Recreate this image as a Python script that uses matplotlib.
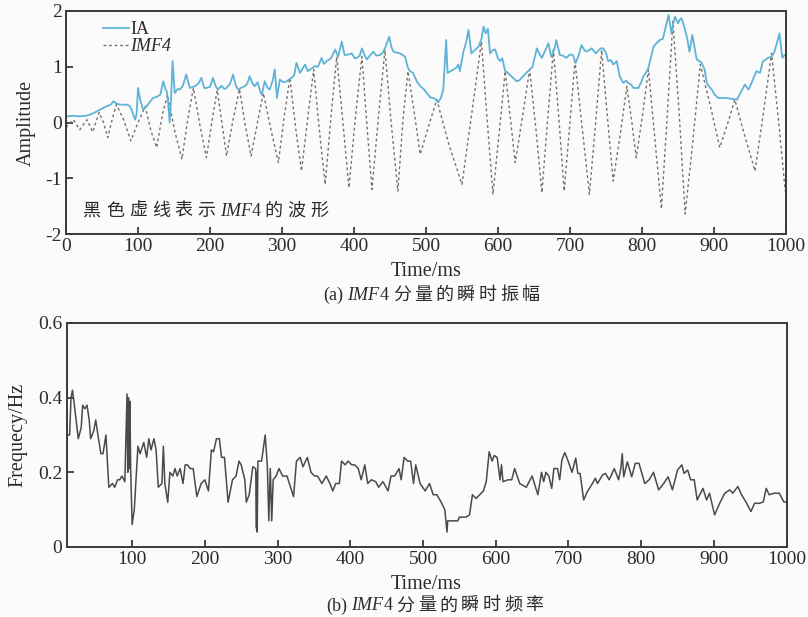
import matplotlib
matplotlib.use("Agg")
import matplotlib.pyplot as plt
from matplotlib.offsetbox import TextArea, HPacker, AnchoredOffsetbox

# --- instantaneous amplitude (IA) of IMF4 ---
ia_t = [0, 10, 19, 27, 33, 40, 47, 56, 62, 66, 70, 75, 84, 88, 91, 96, 98, 100, 103, 107,
        112, 117, 121, 126, 131, 135, 138, 140, 142, 144, 146, 148, 151, 155, 158, 162, 167, 172, 179, 184,
        188, 192, 195, 200, 204, 208, 211, 216, 220, 223, 228, 232, 236, 239, 243, 248, 252, 255, 259, 262,
        266, 270, 272, 276, 280, 283, 287, 290, 293, 297, 302, 307, 313, 317, 320, 325, 332, 336, 339, 346,
        350, 355, 358, 362, 368, 374, 378, 383, 387, 392, 397, 401, 404, 408, 411, 415, 418, 422, 427, 431,
        436, 440, 443, 449, 452, 455, 460, 464, 471, 475, 478, 482, 485, 488, 492, 497, 501, 506, 510, 513,
        517, 521, 524, 528, 530, 534, 538, 542, 545, 547, 552, 556, 559, 563, 568, 573, 577, 580, 583, 586,
        589, 593, 596, 600, 603, 606, 610, 613, 616, 621, 626, 630, 635, 640, 644, 648, 654, 658, 661, 666,
        670, 674, 678, 681, 686, 690, 695, 700, 704, 708, 712, 716, 720, 723, 727, 730, 736, 740, 743, 746,
        750, 753, 757, 760, 765, 769, 774, 778, 781, 785, 788, 792, 795, 799, 802, 806, 809, 813, 816, 820,
        825, 829, 832, 837, 841, 843, 846, 850, 853, 855, 860, 863, 866, 870, 873, 876, 880, 883, 887, 890,
        893, 897, 901, 906, 912, 918, 922, 927, 932, 938, 943, 948, 952, 955, 959, 964, 968, 971, 975, 980,
        984, 988, 991, 995, 998, 1000]
ia_v = [0.11, 0.12, 0.11, 0.12, 0.14, 0.18, 0.23, 0.29, 0.32, 0.38, 0.34, 0.32, 0.32, 0.30, 0.23, 0.05, 0.15, 0.62, 0.41, 0.23,
        0.29, 0.38, 0.44, 0.46, 0.50, 0.74, 0.60, 0.56, 0.35, 0.00, 0.45, 1.10, 0.53, 0.60, 0.59, 0.65, 0.86, 0.62, 0.65, 0.70,
        0.80, 0.62, 0.62, 0.64, 0.80, 0.65, 0.59, 0.66, 0.60, 0.62, 0.70, 0.86, 0.66, 0.59, 0.62, 0.65, 0.70, 0.83, 0.70, 0.65,
        0.72, 0.55, 0.50, 0.74, 0.62, 0.59, 0.75, 0.95, 0.44, 0.77, 0.72, 0.74, 0.80, 0.85, 1.07, 0.89, 1.04, 0.92, 0.95, 1.01,
        1.00, 1.16, 1.05, 1.10, 1.15, 1.31, 1.18, 1.45, 1.21, 1.22, 1.24, 1.15, 1.16, 1.20, 1.33, 1.20, 1.13, 1.20, 1.27, 1.20,
        1.21, 1.25, 1.33, 1.54, 1.35, 1.27, 1.25, 1.24, 1.18, 0.98, 0.92, 0.89, 0.80, 0.72, 0.65, 0.60, 0.53, 0.45, 0.44, 0.42,
        0.36, 0.45, 0.59, 1.48, 0.89, 0.92, 0.95, 0.98, 1.04, 0.92, 1.27, 1.45, 1.66, 1.24, 1.30, 1.36, 1.50, 1.72, 1.60, 1.68,
        1.24, 1.30, 1.31, 1.15, 1.10, 1.15, 0.92, 0.90, 0.86, 0.80, 0.74, 0.76, 0.83, 0.90, 0.95, 1.00, 1.33, 1.22, 1.16, 1.30,
        1.42, 1.18, 1.30, 1.48, 1.21, 1.20, 1.16, 1.22, 1.21, 1.07, 1.20, 1.39, 1.30, 1.27, 1.30, 1.33, 1.24, 1.30, 1.33, 1.33,
        1.25, 1.10, 1.12, 1.04, 1.10, 0.83, 0.71, 0.75, 0.71, 0.68, 0.62, 0.62, 0.62, 0.72, 0.83, 0.90, 0.98, 1.20, 1.36, 1.42,
        1.48, 1.50, 1.66, 1.93, 1.60, 1.75, 1.90, 1.78, 1.85, 1.87, 1.66, 1.50, 1.27, 1.57, 1.35, 1.13, 1.10, 1.07, 0.95, 0.71,
        0.65, 0.59, 0.50, 0.44, 0.44, 0.44, 0.43, 0.42, 0.41, 0.56, 0.68, 0.59, 0.70, 0.80, 0.92, 0.89, 1.10, 1.12, 1.16, 1.18,
        1.27, 1.45, 1.60, 1.16, 1.21, 1.20]

# --- IMF4 waveform: turning points and shoulders ---
imf_t = [0, 10, 19, 29, 37, 46, 52, 58, 64, 70, 80, 90, 100, 110, 118, 126, 134, 141, 151, 161,
         169, 177, 186, 195, 203, 210, 217, 223, 232, 241, 249, 257, 266, 274, 285, 295, 303, 311, 319, 327,
         336, 344, 352, 360, 368, 376, 385, 393, 402, 411, 418, 425, 434, 443, 452, 461, 468, 475, 484, 492,
         504, 515, 532, 550, 564, 577, 585, 593, 602, 610, 617, 624, 634, 644, 653, 661, 669, 677, 685, 692,
         700, 707, 717, 727, 736, 744, 752, 760, 770, 779, 786, 792, 801, 809, 818, 827, 835, 843, 852, 860,
         871, 881, 895, 908, 919, 929, 943, 957, 969, 980, 990, 999]
imf_v = [-0.09, 0.05, -0.13, 0.05, -0.17, 0.18, 0.0, -0.27, 0.05, 0.32, 0.05, -0.33, 0.0, 0.29, -0.15, -0.45, 0.15, 0.50, -0.15, -0.66,
         0.05, 0.62, -0.05, -0.63, 0.05, 0.58, -0.05, -0.60, 0.05, 0.60, -0.05, -0.60, 0.0, 0.53, -0.15, -0.72, 0.1, 0.80, -0.1, -0.87,
         0.1, 0.95, -0.15, -1.11, 0.1, 1.18, -0.05, -1.17, 0.1, 1.18, -0.05, -1.20, 0.1, 1.30, -0.05, -1.23, 0.05, 0.92, 0.15, -0.57,
         -0.05, 0.41, -0.40, -1.11, 0.2, 1.45, 0.05, -1.29, -0.15, 0.92, 0.1, -0.72, 0.1, 0.95, -0.15, -1.26, 0.05, 1.30, 0.0, -1.23,
         0.0, 1.10, -0.1, -1.29, 0.05, 1.30, 0.1, -1.05, -0.2, 0.65, 0.0, -0.63, 0.15, 0.95, -0.3, -1.55, 0.1, 1.81, 0.1, -1.64,
         -0.3, 1.04, 0.3, -0.45, -0.02, 0.41, -0.25, -0.87, 0.2, 1.24, 0.0, -1.23]

# --- instantaneous frequency of IMF4 ---
fr_t = [11, 14, 16, 18, 20, 23, 26, 30, 32, 35, 38, 41, 43, 47, 50, 53, 57, 60, 64, 66,
        68, 73, 76, 80, 83, 86, 90, 93, 94, 95, 96, 97, 98, 100, 103, 108, 111, 116, 120, 123,
        126, 130, 133, 136, 141, 143, 145, 149, 152, 156, 159, 162, 166, 170, 173, 176, 180, 184, 189, 195,
        200, 205, 209, 212, 216, 220, 223, 227, 232, 238, 243, 247, 250, 255, 257, 261, 266, 270, 271, 271.5,
        272, 273, 275, 278, 283, 286, 288, 290, 292, 294, 298, 302, 307, 313, 322, 326, 331, 335, 341, 346,
        351, 355, 361, 367, 372, 376, 380, 385, 388, 393, 397, 402, 406, 411, 415, 420, 424, 429, 435, 439,
        445, 452, 456, 461, 467, 470, 474, 479, 483, 487, 490, 496, 503, 509, 514, 519, 525, 530, 533, 534,
        541, 548, 550, 559, 564, 568, 573, 578, 583, 587, 591, 595, 598, 602, 606, 608, 610, 617, 622, 626,
        633, 642, 650, 658, 663, 666, 669, 673, 677, 680, 685, 688, 691, 695, 699, 705, 710, 713, 716, 721,
        726, 733, 737, 740, 747, 751, 756, 763, 769, 772, 774, 776, 781, 787, 792, 797, 805, 811, 817, 824,
        831, 837, 843, 850, 856, 859, 864, 868, 873, 877, 885, 890, 894, 901, 908, 915, 922, 926, 933, 938,
        944, 951, 956, 963, 968, 972, 976, 983, 990, 996, 1000]
fr_v = [0.30, 0.30, 0.40, 0.42, 0.39, 0.34, 0.29, 0.32, 0.38, 0.37, 0.38, 0.34, 0.29, 0.31, 0.34, 0.30, 0.25, 0.25, 0.30, 0.23,
        0.16, 0.17, 0.16, 0.18, 0.18, 0.19, 0.175, 0.41, 0.20, 0.40, 0.21, 0.39, 0.21, 0.06, 0.10, 0.27, 0.25, 0.28, 0.24, 0.29,
        0.26, 0.29, 0.26, 0.16, 0.17, 0.27, 0.17, 0.12, 0.20, 0.19, 0.21, 0.19, 0.21, 0.17, 0.22, 0.22, 0.21, 0.21, 0.135, 0.17,
        0.18, 0.15, 0.26, 0.255, 0.29, 0.29, 0.24, 0.24, 0.12, 0.18, 0.19, 0.23, 0.22, 0.18, 0.12, 0.14, 0.215, 0.21, 0.05, 0.20,
        0.04, 0.23, 0.23, 0.23, 0.30, 0.215, 0.07, 0.21, 0.07, 0.18, 0.19, 0.21, 0.19, 0.19, 0.135, 0.23, 0.24, 0.215, 0.24, 0.20,
        0.19, 0.19, 0.17, 0.19, 0.17, 0.15, 0.17, 0.17, 0.23, 0.22, 0.23, 0.22, 0.22, 0.21, 0.18, 0.22, 0.17, 0.18, 0.175, 0.16,
        0.175, 0.15, 0.19, 0.19, 0.21, 0.18, 0.24, 0.23, 0.23, 0.17, 0.22, 0.17, 0.15, 0.17, 0.14, 0.14, 0.12, 0.10, 0.04, 0.07,
        0.07, 0.07, 0.08, 0.08, 0.086, 0.14, 0.13, 0.14, 0.15, 0.175, 0.255, 0.23, 0.245, 0.24, 0.18, 0.22, 0.175, 0.18, 0.18, 0.21,
        0.17, 0.16, 0.19, 0.14, 0.20, 0.175, 0.20, 0.19, 0.157, 0.21, 0.21, 0.18, 0.233, 0.253, 0.233, 0.20, 0.238, 0.197, 0.197, 0.126,
        0.148, 0.17, 0.184, 0.17, 0.193, 0.197, 0.18, 0.21, 0.18, 0.21, 0.25, 0.188, 0.228, 0.188, 0.224, 0.224, 0.17, 0.18, 0.20, 0.153,
        0.17, 0.188, 0.153, 0.206, 0.22, 0.197, 0.206, 0.18, 0.18, 0.126, 0.157, 0.126, 0.144, 0.086, 0.117, 0.144, 0.153, 0.144, 0.162, 0.14,
        0.121, 0.095, 0.117, 0.117, 0.121, 0.157, 0.14, 0.144, 0.144, 0.121, 0.12]

amp_ticks = [0, 100, 200, 300, 400, 500, 600, 700, 800, 900, 1000]
freq_ticks = [100, 200, 300, 400, 500, 600, 700, 800, 900, 1000]

SERIF = ['Liberation Serif', 'Noto Sans CJK SC']
plt.rcParams['font.family'] = SERIF
plt.rcParams['axes.unicode_minus'] = False
TXT = '#2b2b2b'
TICK_FS = 14
LAB_FS = 14.5


def txt(s, size, style='normal'):
    return TextArea(s, textprops=dict(fontsize=size, fontstyle=style, family=SERIF, color=TXT))


def mixed_text(pieces, x, y, size, loc='center', gap=2.5):
    # pieces: plain text, 'imf' for the italic IMF4 symbol, 'cjk' for loosely spaced Chinese
    boxes = []
    for s, kind in pieces:
        if kind == 'cjk':
            boxes.append(HPacker(children=[txt(c, size) for c in s], align='baseline', pad=0, sep=gap))
        elif kind == 'imf':
            boxes.append(HPacker(children=[txt('IMF', size, 'italic'), txt('4', size)],
                                 align='baseline', pad=0, sep=0))
        else:
            boxes.append(txt(s, size))
    row = HPacker(children=boxes, align='baseline', pad=0, sep=3)
    return AnchoredOffsetbox(loc=loc, child=row, pad=0, borderpad=0, frameon=False,
                             bbox_to_anchor=(x, y), bbox_transform=fig.transFigure)


def style_axes(ax):
    for side in ['top', 'right', 'left', 'bottom']:
        ax.spines[side].set_linewidth(1.4)
        ax.spines[side].set_color('#3a3a3a')
    ax.tick_params(direction='in', length=5, width=1.3, colors='#3a3a3a', pad=3,
                   labelsize=TICK_FS, labelcolor=TXT, top=False, right=False)
    ax.set_facecolor('#fbfbfb')


fig = plt.figure(figsize=(8.08, 6.17), dpi=100, facecolor='#fbfbfb')

# (a) instantaneous amplitude
ax1 = fig.add_axes([0.0817, 0.6207, 0.891, 0.3615])
ax1.plot(imf_t, imf_v, color='#7d6d6d', lw=1.0, dashes=(2, 2), label='IMF4')
ax1.plot(ia_t, ia_v, color='#5fb3d6', lw=1.3, label='IA')
ax1.set_xlim(0, 1000)
ax1.set_ylim(-2, 2)
ax1.set_xticks(amp_ticks)
ax1.set_yticks([-2, -1, 0, 1, 2])
ax1.set_yticklabels(['-2', '-1', '0', '1', '2'])
ax1.set_ylabel('Amplitude', fontsize=LAB_FS, color=TXT, labelpad=7)
ax1.set_xlabel('Time/ms', fontsize=LAB_FS, color=TXT, labelpad=5)
style_axes(ax1)
h, l = ax1.get_legend_handles_labels()
leg = ax1.legend(h[::-1], l[::-1], loc='upper left', bbox_to_anchor=(0.052, 0.955), frameon=False,
                 fontsize=13, handlelength=1.4, handletextpad=0.1, labelspacing=0.0,
                 borderpad=0, borderaxespad=0)
for t in leg.get_texts():
    t.set_color(TXT)
leg.get_texts()[1].set_fontstyle('italic')
fig.add_artist(mixed_text([('黑色虚线表示', 'cjk'), ('', 'imf'), ('的波形', 'cjk')],
                          0.103, 0.658, 13, loc='center left', gap=3.5))
fig.add_artist(mixed_text([('(a)', 'normal'), ('', 'imf'), ('分量的瞬时振幅', 'cjk')],
                          0.534, 0.522, 13, gap=2.5))

# (b) instantaneous frequency
ax2 = fig.add_axes([0.0825, 0.1135, 0.891, 0.363])
ax2.plot(fr_t, fr_v, color='#4a4a4a', lw=1.1)
ax2.set_xlim(10, 1000)
ax2.set_ylim(0, 0.6)
ax2.set_xticks(freq_ticks)
ax2.set_yticks([0, 0.2, 0.4, 0.6])
ax2.set_yticklabels(['0', '0.2', '0.4', '0.6'])
ax2.set_ylabel('Frequecy/Hz', fontsize=LAB_FS, color=TXT, labelpad=8)
ax2.set_xlabel('Time/ms', fontsize=LAB_FS, color=TXT, labelpad=5)
style_axes(ax2)
fig.add_artist(mixed_text([('(b)', 'normal'), ('', 'imf'), ('分量的瞬时频率', 'cjk')],
                          0.538, 0.018, 13, gap=2.5))

fig.savefig('out.png', dpi=100, facecolor=fig.get_facecolor())
